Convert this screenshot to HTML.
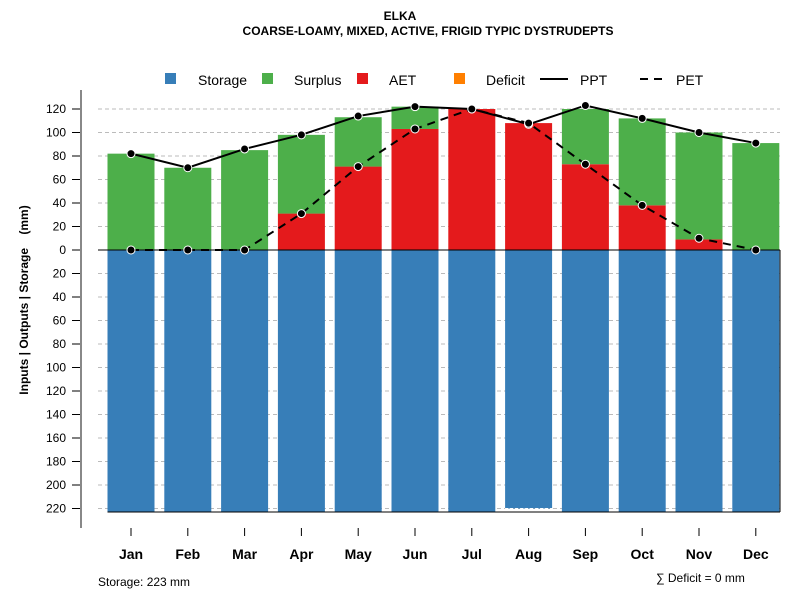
<!DOCTYPE html>
<html><head><meta charset="utf-8"><style>
body{margin:0;background:#fff;font-family:"Liberation Sans",sans-serif}
</style></head><body>
<svg id="c" width="800" height="600" xmlns="http://www.w3.org/2000/svg" font-family="Liberation Sans, sans-serif"></svg>
<script>
const months=["Jan","Feb","Mar","Apr","May","Jun","Jul","Aug","Sep","Oct","Nov","Dec"];
const ppt=[82,70,86,98,114,122,120,107,123,112,100,91];
const pet=[0,0,0,31,71,103,120,108,73,38,10,0];
const aet=[0,0,0,31,71,103,120,108,73,38,9,0];
const surplus=[82,70,85,67,42,19,0,0,47,74,91,91];
const storage=[223,223,223,223,223,223,223,220,223,223,223,223];
const yTicks=[120,100,80,60,40,20,0,20,40,60,80,100,120,140,160,180,200,220];
const yTickSign=[1,1,1,1,1,1,0,-1,-1,-1,-1,-1,-1,-1,-1,-1,-1,-1];

const NS="http://www.w3.org/2000/svg",svg=document.getElementById('c');
function el(t,a,txt){const e=document.createElementNS(NS,t);for(const k in a)e.setAttribute(k,a[k]);if(txt!=null)e.textContent=txt;svg.appendChild(e);return e;}
const y0=250,k=1.175;
const ys=v=>y0-v*k;
const xs=i=>131+i*56.8;
const bw=47;

let t=el('text',{x:400,y:20,'text-anchor':'middle','font-size':12,'font-weight':'bold'},'ELKA');

t=el('text',{x:428,y:35,'text-anchor':'middle','font-size':12,'font-weight':'bold'},'COARSE-LOAMY, MIXED, ACTIVE, FRIGID TYPIC DYSTRUDEPTS');


// legend
const leg=[["Storage","#377EB8",165,198],["Surplus","#4DAF4A",262,294],["AET","#E41A1C",357,389],["Deficit","#FF7F00",454,486]];
leg.forEach(l=>{const g=el('rect',{x:l[2],y:73,width:11,height:11,fill:l[1]});

const tt=el('text',{x:l[3],y:85,'font-size':14},l[0]);
});
el('line',{x1:540,y1:79,x2:568,y2:79,stroke:'#000','stroke-width':2});
t=el('text',{x:580,y:85,'font-size':14},'PPT');
el('line',{x1:640,y1:79,x2:668,y2:79,stroke:'#000','stroke-width':2,'stroke-dasharray':'8,6'});
t=el('text',{x:676,y:85,'font-size':14},'PET');

// grid
yTicks.forEach((v,i)=>{const y=ys(v*yTickSign[i]);
if(yTickSign[i]!==0){const g=el('line',{x1:98,x2:780,y1:y,y2:y,stroke:'#bbb','stroke-dasharray':'4,3'});}
el('line',{x1:72,x2:81,y1:y,y2:y,stroke:'#000'});
const tl=el('text',{x:66,y:y+4,'text-anchor':'end','font-size':12},String(v));
});
el('line',{x1:81,x2:81,y1:90,y2:528,stroke:'#888','stroke-width':2});
t=el('text',{x:0,y:0,'font-size':12,'font-weight':'bold','text-anchor':'middle',transform:'translate(28,300) rotate(-90)','xml:space':'preserve',style:'white-space:pre'},'Inputs | Outputs | Storage    (mm)');


// bars
months.forEach((m,i)=>{const x=xs(i)-bw/2;
let r=el('rect',{x:x,y:y0,width:bw,height:storage[i]*k,fill:'#377EB8'});
r=el('rect',{x:x,y:ys(aet[i]),width:bw,height:aet[i]*k,fill:'#E41A1C'});
r=el('rect',{x:x,y:ys(aet[i]+surplus[i]),width:bw,height:surplus[i]*k,fill:'#4DAF4A'});
el('line',{x1:xs(i),x2:xs(i),y1:528,y2:536,stroke:'#000'});
const tl=el('text',{x:xs(i),y:559,'text-anchor':'middle','font-size':14,'font-weight':'bold'},m);
});
el('line',{x1:98,x2:780,y1:y0,y2:y0,stroke:'#000'});
el('line',{x1:xs(0)-bw/2,x2:780,y1:ys(-223),y2:ys(-223),stroke:'#000'});
el('line',{x1:780,x2:780,y1:y0,y2:ys(-223),stroke:'#000'});
el('line',{x1:xs(7)-bw/2,x2:xs(7)+bw/2,y1:ys(-220),y2:ys(-220),stroke:'#fff','stroke-dasharray':'3,2'});

// lines
const pp=el('polyline',{points:ppt.map((v,i)=>xs(i)+','+ys(v)).join(' '),fill:'none',stroke:'#000','stroke-width':2});

const pe=el('polyline',{points:pet.map((v,i)=>xs(i)+','+ys(v)).join(' '),fill:'none',stroke:'#000','stroke-width':2,'stroke-dasharray':'8,6'});

ppt.forEach((v,i)=>{const c=el('circle',{cx:xs(i),cy:ys(v),r:4,fill:'#000',stroke:'#fff','stroke-width':1});});
pet.forEach((v,i)=>{const c=el('circle',{cx:xs(i),cy:ys(v),r:4,fill:'#000',stroke:'#fff','stroke-width':1});});

t=el('text',{x:98,y:586,'font-size':12},'Storage: 223 mm');
t=el('text',{x:656,y:582,'font-size':12},'∑ Deficit = 0 mm');
</script>
</body></html>
